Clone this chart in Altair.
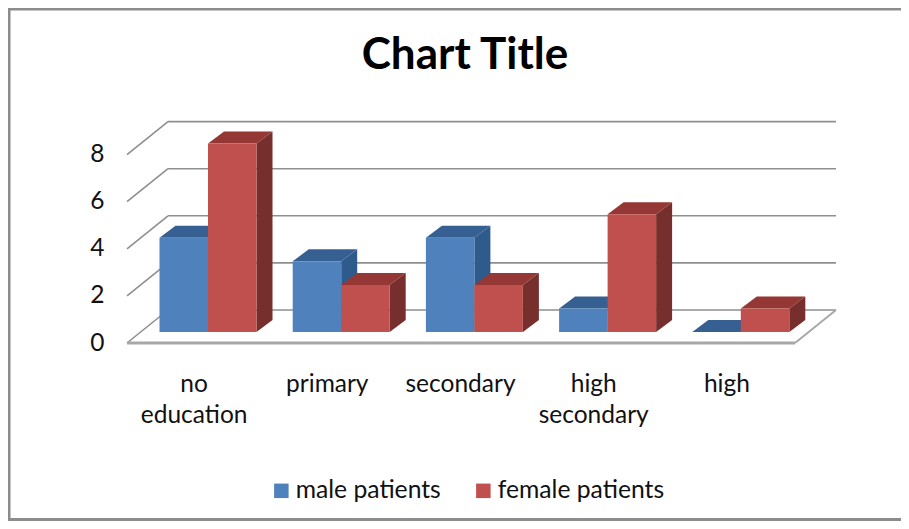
import altair as alt
import pandas as pd

categories = ["no education", "primary", "secondary", "high secondary", "high"]
male_patients = [4, 3, 4, 1, 0]
female_patients = [8, 2, 2, 5, 1]
series_names = ["male patients", "female patients"]
y_ticks = [0, 2, 4, 6, 8]

FONT = "Lato"
UNIT_X = 133.2   # px per category
UNIT_Y = 23.55   # px per value
LEFT, TOP = 119, 80
W, H = 774, 255

WALL_X = 41 / UNIT_X
WALL_Y = 33 / UNIT_Y
BAR_W = 48.5 / UNIT_X
GAP = 32.5 / UNIT_X
BAR_DX = 16 / UNIT_X
BAR_DY = 12 / UNIT_Y
BASE = 11 / UNIT_Y
GRID = "#8f8f8f"
n = len(categories)
FLOOR_END = n + 2 / UNIT_X

x_scale = alt.Scale(domain=[0, W / UNIT_X], nice=False, zero=False)
y_scale = alt.Scale(domain=[0, H / UNIT_Y], nice=False, zero=False)
x_axis = alt.Axis(
    values=[i + 0.5 for i in range(n)], grid=False, domain=False, ticks=False, title=None,
    labelExpr="[" + ",".join("['" + "','".join(c.split(" ")) + "']" for c in categories) + "][floor(datum.value)]",
    labelFont=FONT, labelFontSize=24.5, labelColor="#111111", labelPadding=29, labelLineHeight=31,
    labelOverlap=False, labelBound=False, labelFlush=False, labelAngle=0)
y_axis = alt.Axis(
    values=y_ticks, grid=False, domain=False, ticks=False, title=None,
    labelFont=FONT, labelFontSize=24.5, labelColor="#111111", labelPadding=23, labelOffset=0)
X_ = alt.X("x:Q", scale=x_scale, axis=x_axis)
Y_ = alt.Y("y:Q", scale=y_scale, axis=y_axis)

fronts, tops, sides = [], [], []
for s, (name, vals) in enumerate(zip(series_names, [male_patients, female_patients])):
    for i, v in enumerate(vals):
        x0 = i + GAP + s * BAR_W
        x1 = x0 + BAR_W
        key = f"{s}-{i}"
        fronts.append(dict(series=name, s=s, x=x0, x2=x1, y=BASE + v, y2=BASE))
        for k in (0, 1):
            tops.append(dict(s=s, key=key, x=x0 + k * BAR_DX, x2=x1 + k * BAR_DX, y=BASE + v + k * BAR_DY))
            sides.append(dict(s=s, key=key, x=x1 + k * BAR_DX, y=BASE + v + k * BAR_DY, y2=BASE + k * BAR_DY))
fronts, tops, sides = pd.DataFrame(fronts), pd.DataFrame(tops), pd.DataFrame(sides)

wall = pd.DataFrame([dict(x=0, x2=WALL_X, y=t, y2=t + WALL_Y) for t in y_ticks])
back = pd.DataFrame([dict(x=WALL_X, x2=FLOOR_END + WALL_X, y=t + WALL_Y) for t in y_ticks])
floor_front = pd.DataFrame([dict(x=0, x2=FLOOR_END, y=0)])
floor_right = pd.DataFrame([dict(x=FLOOR_END, x2=FLOOR_END + WALL_X, y=0, y2=WALL_Y)])

layers = []
layers.append(alt.Chart(wall).mark_rule(color=GRID, strokeWidth=1.6).encode(x=X_, x2="x2:Q", y=Y_, y2="y2:Q"))
layers.append(alt.Chart(back).mark_rule(color=GRID, strokeWidth=1.6).encode(x=X_, x2="x2:Q", y=Y_))
layers.append(alt.Chart(floor_front).mark_rule(color="#a8a8a8", strokeWidth=3).encode(x=X_, x2="x2:Q", y=Y_))
layers.append(alt.Chart(floor_right).mark_rule(color="#a8a8a8", strokeWidth=2).encode(x=X_, x2="x2:Q", y=Y_, y2="y2:Q"))

front_colors = ["#4f81bd", "#c0504d"]
face_colors = [("#376092", "#2f5a8c"), ("#953735", "#772f2d")]
layers.append(alt.Chart(fronts).mark_rect(opacity=0).encode(
    x=X_, x2="x2:Q", y=Y_, y2="y2:Q",
    color=alt.Color("series:N", scale=alt.Scale(domain=series_names, range=front_colors),
        sort=None,
        legend=alt.Legend(title=None, orient="none", direction="horizontal", legendX=142, legendY=390,
            symbolType="square", symbolSize=210, symbolStrokeWidth=0, symbolOpacity=1, labelFont=FONT, labelFontSize=24.7,
            labelColor="#111111", labelLimit=400, columnPadding=30, labelOffset=2))))
for s, (top_c, side_c) in enumerate(face_colors):
    layers.append(alt.Chart(tops[tops.s == s]).mark_area(color=top_c, orient="horizontal", opacity=1).encode(
        x=X_, x2="x2:Q", y=Y_, detail="key:N"))
    layers.append(alt.Chart(sides[sides.s == s]).mark_area(color=side_c, opacity=1).encode(
        x=X_, y=Y_, y2="y2:Q", detail="key:N"))
    layers.append(alt.Chart(fronts[fronts.s == s]).mark_rect(color=front_colors[s]).encode(
        x=X_, x2="x2:Q", y=Y_, y2="y2:Q"))

one = pd.DataFrame({"a": [0]})
layers.append(alt.Chart(one).mark_text(font=FONT, fontSize=44, fontWeight="bold", color="#000000",
                                        align="center", baseline="alphabetic").encode(
    x=alt.value(465 - 127), y=alt.value(69 - 88), text=alt.value("Chart Title")))

frame = "#8c8c8c"
layers.append(alt.Chart(one).mark_rule(color=frame, strokeWidth=3).encode(
    x=alt.value(-LEFT + 1), y=alt.value(-TOP), y2=alt.value(H + 178)))
layers.append(alt.Chart(one).mark_rule(color=frame, strokeWidth=3).encode(
    x=alt.value(-LEFT), x2=alt.value(W), y=alt.value(-TOP + 1)))
layers.append(alt.Chart(one).mark_rule(color=frame, strokeWidth=3).encode(
    x=alt.value(-LEFT), x2=alt.value(W), y=alt.value(H + 176.5)))

chart = alt.layer(*layers).properties(
    width=W, height=H,
    autosize=alt.AutoSizeParams(type="none"),
    padding={"left": LEFT, "top": TOP, "right": 0, "bottom": 178},
    background="white",
).configure_view(stroke=None)

chart.save("out.html", embed_options={"renderer": "svg", "actions": False})
